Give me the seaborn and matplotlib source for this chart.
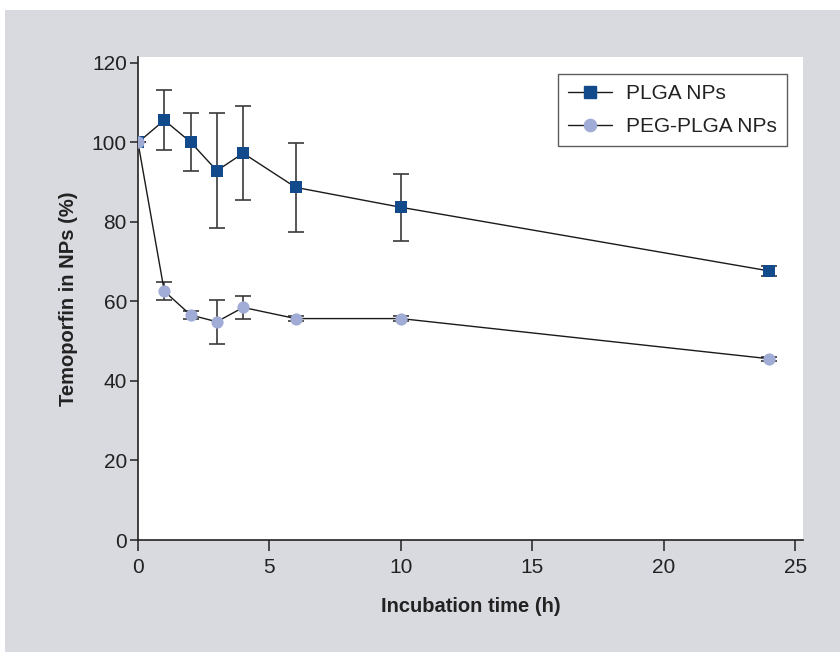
import matplotlib
matplotlib.use("Agg")
import matplotlib.pyplot as plt
import seaborn as sns
import pandas as pd
from matplotlib.patches import Rectangle
from matplotlib.lines import Line2D

# Release data: time points (h), mean retained temoporfin (%) and SD
time_h = [0, 1, 2, 3, 4, 6, 10, 24]
plga_mean = [100, 105.6, 100.1, 92.9, 97.3, 88.7, 83.7, 67.7]
plga_sd = [0, 7.6, 7.3, 14.5, 11.8, 11.2, 8.4, 1.3]
peg_mean = [100, 62.6, 56.6, 54.9, 58.5, 55.7, 55.7, 45.6]
peg_sd = [0, 2.2, 1.0, 5.5, 2.9, 0.7, 0.6, 0.5]
series_names = ["PLGA NPs", "PEG-PLGA NPs"]
x_ticks = [0, 5, 10, 15, 20, 25]
y_ticks = [0, 20, 40, 60, 80, 100, 120]

sns.set_theme(style="ticks")
plt.rcParams["font.family"] = ["Liberation Sans", "DejaVu Sans"]

df = pd.concat([
    pd.DataFrame({"time": time_h, "value": plga_mean, "sd": plga_sd, "group": series_names[0]}),
    pd.DataFrame({"time": time_h, "value": peg_mean, "sd": peg_sd, "group": series_names[1]}),
], ignore_index=True)

colors = {series_names[0]: "#134a8c", series_names[1]: "#a0acd5"}
markers = {series_names[0]: "s", series_names[1]: "o"}
msize = 8.8

fig = plt.figure(figsize=(8.4, 6.52), dpi=100, facecolor="white")
# grey panel behind the chart
fig.patches.append(Rectangle((5 / 840, 0), 1, 1 - 10 / 652, transform=fig.transFigure,
                             facecolor="#d9dadf", edgecolor="none", zorder=-10))

ax = fig.add_axes([138 / 840, 1 - 540 / 652, (803 - 138) / 840, (540 - 57) / 652])
ax.set_facecolor("white")

sns.lineplot(data=df, x="time", y="value", hue="group", style="group",
             palette=colors, markers=markers, dashes=False, ax=ax,
             markersize=msize, markeredgewidth=0, linewidth=1.0, zorder=3,
             estimator=None, errorbar=None, legend=False)
for line in ax.get_lines():
    mk = line.get_marker()
    if mk in ("s", "o"):
        name = series_names[0] if mk == "s" else series_names[1]
        line.set_color("#1a1a1a")
        line.set_markerfacecolor(colors[name])
        line.set_markeredgecolor(colors[name])

# error bars behind the markers
for name in series_names:
    sub = df[df["group"] == name]
    ax.errorbar(sub["time"], sub["value"], yerr=sub["sd"], fmt="none",
                ecolor="#3a3a3a", elinewidth=1.2, capsize=5.5, capthick=1.2, zorder=2)

ax.set_xlim(0, 25.3)
ax.set_ylim(0, 121.5)
ax.set_xticks(x_ticks)
ax.set_yticks(y_ticks)
sns.despine(ax=ax)
for s in ["left", "bottom"]:
    ax.spines[s].set_color("#222222")
    ax.spines[s].set_linewidth(1.2)
ax.tick_params(axis="both", labelsize=15, colors="#222222", width=1.1)
ax.tick_params(axis="x", length=8, pad=5)
ax.tick_params(axis="y", length=6, pad=2)

ax.set_xlabel("Incubation time (h)", fontsize=14.5, fontweight="bold", labelpad=14, color="#222222")
ax.set_ylabel("Temoporfin in NPs (%)", fontsize=14.5, fontweight="bold", labelpad=10, color="#222222")

# legend with line-through-marker handles
handles = [Line2D([0], [0], color="#1a1a1a", lw=1.0, marker=markers[n], markersize=msize,
                  markerfacecolor=colors[n], markeredgecolor=colors[n]) for n in series_names]
leg = ax.legend(handles, series_names, loc="upper right", bbox_to_anchor=(0.976, 0.965),
                borderaxespad=0, fontsize=15, frameon=True, fancybox=False, handlelength=2.1,
                borderpad=0.5, labelspacing=0.65, handletextpad=0.65)
leg.get_frame().set_edgecolor("#333333")
leg.get_frame().set_linewidth(1.0)
for t in leg.get_texts():
    t.set_color("#222222")

fig.savefig("out.png", dpi=100, facecolor=fig.get_facecolor())
